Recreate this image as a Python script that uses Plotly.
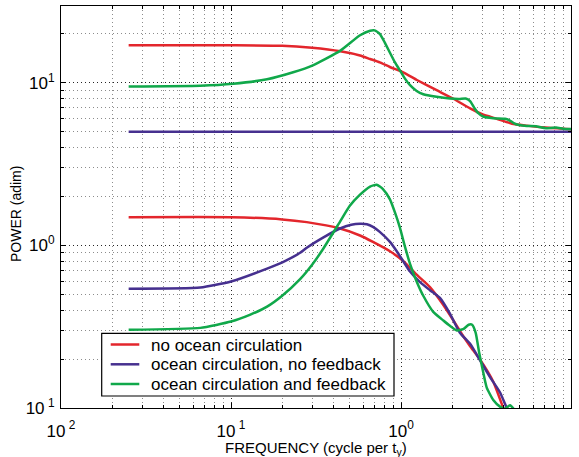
import plotly.graph_objects as go

# ---------------- data ----------------
names = ["no ocean circulation", "ocean circulation, no feedback", "ocean circulation and feedback"]
colors = ["#e3262c", "#46308f", "#10a84a"]

# upper set of curves
up_red_f = [0.025, 0.1, 0.2, 0.3, 0.44, 0.574, 0.658, 0.75, 0.86, 1.03, 1.24, 1.62, 2.02, 2.55, 3.0, 3.66, 4.5, 5.5, 7.1, 10]
up_red_p = [17.0, 17.0, 16.9, 16.4, 15.6, 14.7, 14.0, 13.35, 12.5, 11.6, 10.4, 9.0, 8.0, 6.95, 6.4, 6.0, 5.6, 5.45, 5.3, 5.17]

up_pur_f = [0.025, 0.1, 1.0, 10]
up_pur_p = [5.0, 5.0, 5.0, 5.0]

up_grn_f = [0.025, 0.066, 0.103, 0.163, 0.232, 0.303, 0.438, 0.574, 0.658, 0.70, 0.752, 0.80, 0.861, 0.92,
            0.986, 1.055, 1.13, 1.236, 1.352, 1.62, 1.94, 2.2, 2.4, 2.55, 2.7, 2.85, 3.04, 3.48, 4.09, 4.32,
            4.6, 4.94, 5.5, 6.22, 6.7, 7.13, 8.16, 9.0, 10]
up_grn_p = [9.5, 9.6, 9.87, 10.5, 11.6, 12.8, 15.7, 19.6, 20.9, 21.0, 19.9, 17.8, 15.3, 13.4,
            11.9, 10.6, 9.66, 8.9, 8.5, 8.2, 8.0, 7.95, 8.0, 7.7, 7.0, 6.5, 6.2, 6.05, 6.0, 5.9,
            5.65, 5.5, 5.42, 5.4, 5.3, 5.26, 5.3, 5.22, 5.19]

# lower set of curves
lo_red_f = [0.025, 0.1, 0.2, 0.279, 0.438, 0.574, 0.684, 0.861, 1.032, 1.236, 1.48, 1.775, 2.13,
            2.32, 2.55, 2.92, 3.49, 4.0, 4.3]
lo_red_p = [1.49, 1.49, 1.445, 1.39, 1.27, 1.15, 1.05, 0.92, 0.80, 0.66, 0.554, 0.43, 0.32,
            0.277, 0.24, 0.198, 0.145, 0.1, 0.085]

lo_pur_f = [0.025, 0.066, 0.1, 0.163, 0.202, 0.255, 0.279, 0.35, 0.438, 0.51, 0.574, 0.63, 0.684, 0.75,
            0.861, 0.944, 1.03, 1.13, 1.294, 1.48, 1.695, 1.94, 2.22, 2.55, 2.92, 3.34, 3.82, 4.19, 4.4]
lo_pur_p = [0.541, 0.55, 0.60, 0.72, 0.79, 0.90, 0.967, 1.12, 1.27, 1.34, 1.36, 1.35, 1.30, 1.21,
            1.05, 0.92, 0.80, 0.69, 0.594, 0.53, 0.475, 0.38, 0.29, 0.248, 0.196, 0.155, 0.125, 0.10, 0.09]

lo_grn_f = [0.025, 0.066, 0.1, 0.13, 0.163, 0.2, 0.255, 0.3, 0.348, 0.438, 0.5, 0.574, 0.658,
            0.719, 0.783, 0.861, 0.93, 0.986, 1.05, 1.13, 1.236, 1.352, 1.548, 1.775, 1.94, 2.13,
            2.32, 2.5, 2.62, 2.75, 2.88, 2.98, 3.19, 3.49, 3.82, 4.09, 4.38, 4.63, 4.89]
lo_grn_p = [0.303, 0.311, 0.34, 0.375, 0.42, 0.49, 0.62, 0.76, 0.95, 1.40, 1.75, 2.05, 2.30,
            2.36, 2.22, 1.92, 1.55, 1.28, 1.0, 0.77, 0.60, 0.49, 0.39, 0.345, 0.32, 0.30,
            0.305, 0.325, 0.325, 0.29, 0.22, 0.185, 0.134, 0.112, 0.102, 0.099, 0.104, 0.098, 0.09]

x_tickvals = [0.01, 0.1, 1, 10]
x_ticktext = ["10<sup> 2</sup>", "10<sup> 1</sup>", "10<sup>0</sup>", "10<sup>1</sup>"]
y_tickvals = [0.1, 1, 10]
y_ticktext = ["10<sup> 1</sup>", "10<sup>0</sup>", "10<sup>1</sup>"]
minor_vals = [k * 10.0 ** d for d in range(-2, 2) for k in range(2, 10)]

x_title = "FREQUENCY (cycle per t<sub>y</sub>)"
y_title = "POWER (adim)"

# ---------------- figure ----------------
FONT = "Liberation Sans, Arial, sans-serif"
fig = go.Figure()

series = [
    (lo_red_f, lo_red_p, 0), (lo_pur_f, lo_pur_p, 1), (lo_grn_f, lo_grn_p, 2),
    (up_red_f, up_red_p, 0), (up_pur_f, up_pur_p, 1), (up_grn_f, up_grn_p, 2),
]
for f, p, ci in series:
    fig.add_trace(go.Scatter(
        x=f, y=p, mode="lines", name=names[ci], showlegend=False,
        line=dict(color=colors[ci], width=2.5, shape="spline", smoothing=0.5),
    ))

axis_common = dict(
    type="log", showline=True, linecolor="black", linewidth=1.2, mirror="allticks",
    ticks="inside", ticklen=5, tickcolor="black", automargin=False,
    showgrid=True, gridcolor="rgba(0,0,0,0.85)", griddash="1px,3px", gridwidth=1,
    zeroline=False, tickfont=dict(family=FONT, size=17, color="black"),
    minor=dict(tickvals=minor_vals, ticks="inside", ticklen=3, tickcolor="black",
               showgrid=True, gridcolor="rgba(0,0,0,0.45)", griddash="1px,3px", gridwidth=1),
)

fig.update_xaxes(range=[-2, 1], tickmode="array", tickvals=x_tickvals, ticktext=x_ticktext,
                 ticklabelstandoff=7, **axis_common)
fig.update_yaxes(range=[-1, 1.472], tickmode="array", tickvals=y_tickvals, ticktext=y_ticktext,
                 ticklabelstandoff=2, **axis_common)

# plot area in pixels: left 61, right 571, top 6, bottom 408
PL, PR, PT, PB = 61, 571, 6, 408
def px(x):
    return (x - PL) / (PR - PL)
def py(y):
    return (PB - y) / (PB - PT)

annotations = [
    dict(text=x_title, x=px(316), y=py(448.5), xref="paper", yref="paper",
         xanchor="center", yanchor="middle", showarrow=False,
         font=dict(family=FONT, size=15, color="black")),
    dict(text=y_title, x=px(16), y=py(214), xref="paper", yref="paper",
         xanchor="center", yanchor="middle", showarrow=False, textangle=-90,
         font=dict(family=FONT, size=14, color="black")),
]

# legend box drawn as shapes + text
shapes = [dict(type="rect", xref="paper", yref="paper", x0=px(101.7), x1=px(394),
               y0=py(396), y1=py(333.3), line=dict(color="black", width=1.2),
               fillcolor="white", layer="above")]
row_y = [344.5, 364.3, 384]
for i, nm in enumerate(names):
    shapes.append(dict(type="line", xref="paper", yref="paper", x0=px(110.7), x1=px(139.3),
                       y0=py(row_y[i]), y1=py(row_y[i]), line=dict(color=colors[i], width=2.5),
                       layer="above"))
    annotations.append(dict(text=nm, x=px(148.5), y=py(row_y[i] + 0.5), xref="paper", yref="paper",
                            xanchor="left", yanchor="middle", showarrow=False,
                            font=dict(family=FONT, size=17, color="black")))

fig.update_layout(
    width=579, height=457,
    margin=dict(l=PL, r=579 - PR, t=PT, b=457 - PB, autoexpand=False),
    paper_bgcolor="white", plot_bgcolor="white",
    font=dict(family=FONT, color="black"),
    showlegend=False,
    annotations=annotations, shapes=shapes,
)

fig.write_html("out.html", config={"displayModeBar": False},
               post_script="document.body.style.margin='0';document.body.style.padding='0';")
